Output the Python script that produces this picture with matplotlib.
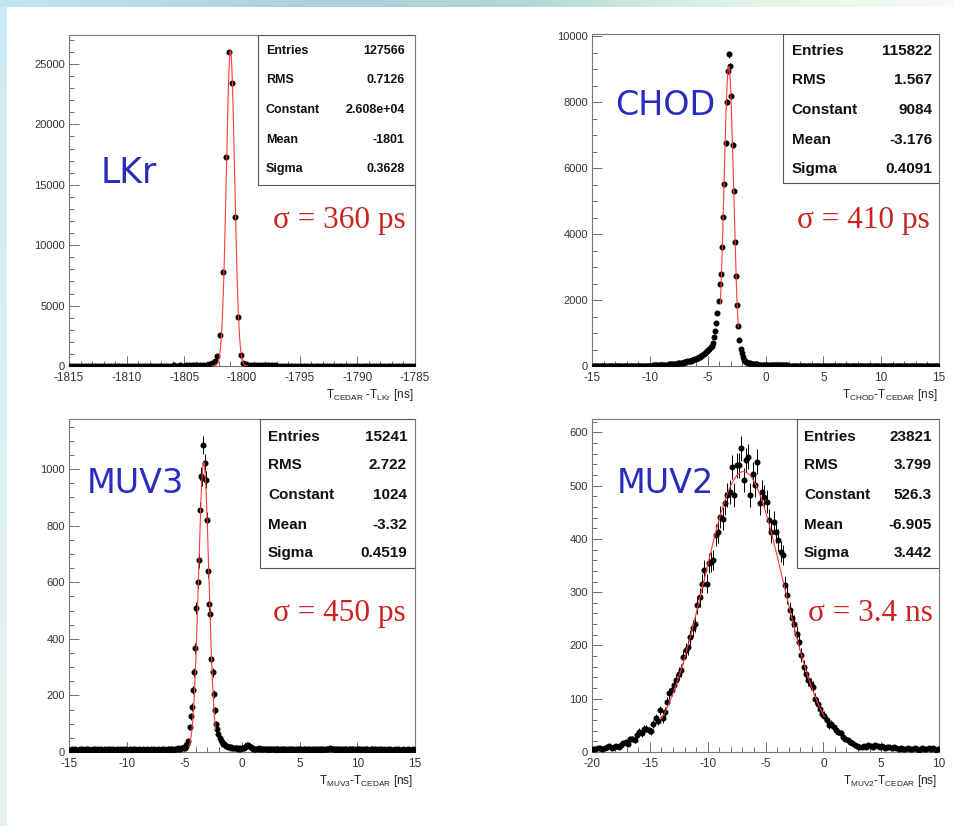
import numpy as np
import matplotlib.pyplot as plt
from matplotlib.patches import Rectangle
from matplotlib.ticker import MultipleLocator, FuncFormatter

plt.rcParams["font.family"] = ["Liberation Sans", "DejaVu Sans"]
plt.rcParams["axes.unicode_minus"] = False
plt.rcParams["mathtext.fontset"] = "custom"
plt.rcParams["mathtext.rm"] = "Liberation Sans"
plt.rcParams["mathtext.default"] = "regular"

# ---------------- LKr: T_CEDAR - T_LKr, 120 bins ----------------
lkr_range = (-1815, -1785)
lkr_counts = [
    22, 25, 19, 24, 28, 21, 26, 23, 27, 30,
    24, 29, 26, 31, 27, 25, 30, 28, 33, 29,
    31, 27, 34, 30, 32, 36, 29, 33, 35, 31,
    37, 34, 38, 33, 40, 36, 42, 39, 44, 41,
    46, 49, 52, 58, 64, 75, 90, 115,
    160, 250, 400, 830, 2540, 7800, 17280, 26000, 23450, 12360, 4060, 885, 260, 130, 90,
    72, 64, 58, 55, 52, 49, 47, 45, 43, 41,
    40, 38, 37, 36, 35, 33, 34, 32, 31, 30,
    31, 29, 28, 30, 27, 28, 26, 27, 25, 26,
    24, 25, 23, 26, 22, 24, 23, 21, 22, 20,
    23, 21, 19, 22, 20, 18, 21, 19, 20, 17,
    19, 18, 20, 16, 18, 17, 19,
]
lkr_stats = [("Entries", "127566"), ("RMS", "0.7126"), ("Constant", "2.608e+04"),
             ("Mean", "-1801"), ("Sigma", "0.3628")]
lkr_fit = (2.608e4, -1801.0, 0.3628)
lkr_fit_range = (-1802.6, -1799.5)

# ---------------- CHOD: T_CHOD - T_CEDAR, 300 bins ----------------
chod_range = (-15, 15)
chod_counts = [
    3, 3, 3, 4, 3, 4, 3, 4, 4, 4,
    4, 4, 4, 4, 5, 4, 5, 5, 5, 5,
    5, 5, 5, 5, 6, 5, 6, 6, 6, 6,
    6, 6, 6, 7, 7, 7, 7, 8, 8, 8,
    8, 8, 9, 9, 10, 10, 11, 11, 12, 13,
    14, 15, 16, 17, 19, 20, 22, 24, 26, 28,
    31, 33, 35, 37, 40, 43, 46, 50, 54, 58,
    62, 65, 69, 73, 77, 82, 88, 95, 104, 114,
    125, 132, 140, 148, 157, 166, 176, 186, 200, 217,
    235, 250, 268, 285, 305, 330, 355, 385, 415, 450,
    490, 530, 580, 620, 700, 890, 1050, 1300, 1600, 1980,
    2490, 2800, 3620, 4520, 5520, 6750, 8000, 8950, 9450, 9100,
    8200, 6700, 5320, 3750, 2740, 1840, 1220, 800, 520, 380,
    260, 190, 150, 125, 105, 90, 80, 72, 65, 60,
    55, 51, 48, 45, 42, 40, 38, 36, 34, 32,
    30, 29, 28, 27, 26, 25, 24, 23, 22, 21,
    20, 20, 19, 18, 18, 17, 17, 16, 16, 15,
    15, 14, 14, 13, 13, 13, 12, 12, 12, 11,
    11, 11, 10, 10, 10, 10, 9, 9, 9, 9,
    9, 8, 8, 8, 8, 8, 7, 7, 7, 7,
    7, 7, 7, 6, 6, 6, 6, 6, 6, 6,
    6, 5, 6, 5, 5, 5, 6, 5, 5, 5,
    5, 5, 5, 4, 5, 5, 4, 5, 4, 4,
    5, 4, 4, 4, 4, 5, 4, 4, 4, 4,
    4, 4, 4, 3, 4, 4, 4, 3, 4, 4,
    3, 4, 3, 4, 3, 3, 4, 3, 3, 4,
    3, 3, 3, 4, 3, 3, 3, 3, 4, 3,
    3, 3, 3, 3, 3, 4, 3, 3, 3, 3,
    3, 3, 2, 3, 3, 3, 3, 3, 2, 3,
    3, 3, 3, 2, 3, 3, 3, 3, 3, 2,
]
chod_stats = [("Entries", "115822"), ("RMS", "1.567"), ("Constant", "9084"),
              ("Mean", "-3.176"), ("Sigma", "0.4091")]
chod_fit = (9084, -3.176, 0.4091)
chod_fit_range = (-3.9, -2.35)

# ---------------- MUV3: T_MUV3 - T_CEDAR, 300 bins ----------------
muv3_range = (-15, 15)
muv3_counts = [
    8, 5, 9, 6, 7, 10, 6, 8, 5, 9,
    7, 11, 6, 8, 9, 5, 10, 7, 8, 6,
    9, 7, 12, 8, 6, 9, 7, 10, 8, 5,
    8, 10, 6, 9, 7, 11, 8, 6, 9, 7,
    6, 9, 8, 5, 10, 7, 9, 6, 8, 10,
    7, 5, 9, 8, 6, 10, 7, 9, 5, 8,
    9, 6, 8, 7, 10, 6, 8, 9, 7, 5,
    8, 10, 6, 9, 7, 8, 6, 10, 8, 7,
    9, 7, 11, 8, 6, 9, 10, 7, 12, 9,
    8, 11, 10, 9, 13, 11, 12, 14, 13, 16,
    15, 20, 28, 38, 88, 126, 159, 220, 281, 366,
    509, 600, 678, 855, 975, 970, 1085, 1022, 963, 820,
    640, 522, 487, 328, 281, 204, 147, 100, 83, 62,
    48, 41, 35, 30, 27, 24, 21, 19, 18, 17,
    16, 15, 14, 15, 13, 14, 12, 13, 12, 14,
    13, 15, 18, 22, 25, 24, 20, 16, 13, 12,
    11, 12, 10, 11, 13, 10, 9, 11, 10, 12,
    10, 9, 11, 8, 10, 12, 9, 10, 8, 11,
    9, 10, 8, 11, 9, 7, 10, 9, 8, 10,
    8, 9, 11, 8, 10, 7, 9, 8, 10, 9,
    7, 10, 8, 9, 11, 8, 7, 9, 10, 8,
    9, 8, 10, 7, 9, 11, 8, 10, 9, 7,
    10, 8, 9, 12, 10, 11, 13, 10, 9, 11,
    8, 10, 9, 7, 11, 9, 8, 10, 7, 9,
    10, 8, 9, 11, 7, 9, 10, 8, 9, 7,
    9, 11, 8, 10, 7, 9, 8, 10, 11, 8,
    7, 9, 10, 8, 9, 6, 10, 8, 9, 7,
    9, 8, 6, 10, 8, 7, 9, 8, 10, 6,
    8, 7, 9, 6, 8, 10, 7, 8, 6, 9,
    7, 8, 6, 9, 7, 8, 6, 7, 9, 8,
]
muv3_stats = [("Entries", "15241"), ("RMS", "2.722"), ("Constant", "1024"),
              ("Mean", "-3.32"), ("Sigma", "0.4519")]
muv3_fit = (1024, -3.32, 0.4519)
muv3_fit_range = (-4.6, -2.3)

# ---------------- MUV2: T_MUV2 - T_CEDAR, 150 bins ----------------
muv2_range = (-20, 10)
muv2_counts = [
    6, 5, 7, 8, 5, 7, 9, 11, 8, 10,
    12, 10, 14, 16, 18, 15, 25, 25, 22, 31,
    38, 35, 44, 44, 41, 39, 52, 63, 58, 78,
    63, 75, 94, 110, 116, 125, 135, 147, 153, 178,
    191, 197, 215, 232, 241, 276, 290, 316, 341, 316,
    354, 357, 360, 407, 413, 441, 438, 467, 482, 488,
    535, 482, 538, 538, 570, 510, 548, 554, 482, 522,
    501, 545, 467, 488, 479, 470, 435, 413, 432, 413,
    398, 376, 370, 313, 294, 266, 251, 241, 222, 207,
    182, 160, 147, 135, 128, 122, 100, 91, 80, 72,
    68, 60, 50, 53, 46, 41, 38, 35, 28, 25,
    22, 19, 16, 13, 11, 10, 9, 11, 9, 13,
    12, 10, 14, 11, 9, 11, 8, 10, 9, 7,
    9, 8, 6, 7, 6, 5, 8, 6, 5, 7,
    6, 4, 8, 5, 6, 7, 5, 8, 4, 6,
]
muv2_stats = [("Entries", "23821"), ("RMS", "3.799"), ("Constant", "526.3"),
              ("Mean", "-6.905"), ("Sigma", "3.442")]
muv2_fit = (526.3, -6.905, 3.442)
muv2_fit_range = (-14.0, 0.1)

W, H = 955, 826
BLUE = "#2b2bbd"
RED = "#cc2222"


def gaus(x, const, mean, sigma):
    """Gaussian fit function with the parameters shown in the stats box."""
    return const * np.exp(-0.5 * ((x - mean) / sigma) ** 2)


def px_rect(left, top, right, bottom):
    """Pixel box on the slide -> figure fraction rect."""
    return [left / W, 1 - bottom / H, (right - left) / W, (bottom - top) / H]


def draw_background(fig):
    """Light slide gradient at the top and left edge."""
    xs = np.linspace(0, 1, 500)
    pos = [0.0, 0.35, 0.55, 0.72, 0.88, 1.0]
    cols = np.array([[0.76, 0.90, 0.95], [0.66, 0.82, 0.86], [0.70, 0.85, 0.84],
                     [0.84, 0.94, 0.88], [0.93, 0.98, 0.92], [0.96, 0.99, 0.96]])
    grad = np.stack([np.interp(xs, pos, cols[:, i]) for i in range(3)], axis=-1)[None]
    band = fig.add_axes(px_rect(0, 0, W, 7))
    band.imshow(grad, aspect="auto")
    band.axis("off")

    ys = np.linspace(0, 1, 300)
    vcols = np.array([[0.80, 0.92, 0.96], [0.86, 0.94, 0.95], [0.90, 0.95, 0.93]])
    vgrad = np.stack([np.interp(ys, [0, 0.5, 1], vcols[:, i]) for i in range(3)], axis=-1)[:, None]
    strip = fig.add_axes(px_rect(0, 7, 6, H))
    strip.imshow(vgrad, aspect="auto")
    strip.axis("off")


def draw_panel(fig, p):
    """One ROOT-like histogram with Gaussian fit and stats box."""
    ax = fig.add_axes(px_rect(*p["box"]))
    counts = np.asarray(p["counts"], dtype=float)
    edges = np.linspace(p["range"][0], p["range"][1], len(counts) + 1)
    centers = 0.5 * (edges[1:] + edges[:-1])

    ax.errorbar(centers, counts, yerr=np.sqrt(counts), fmt="o", ms=3.3,
                mfc="black", mec="black", ecolor="black", elinewidth=0.7,
                capsize=0, zorder=3)
    xf = np.linspace(p["fit_range"][0], p["fit_range"][1], 400)
    ax.plot(xf, gaus(xf, *p["fit"]), color="#ff3a3a", lw=0.8, zorder=4)

    ax.set_xlim(*p["range"])
    ax.set_ylim(0, p["ymax"])
    ax.xaxis.set_major_locator(MultipleLocator(5))
    ax.xaxis.set_minor_locator(MultipleLocator(1))
    ax.yaxis.set_major_locator(MultipleLocator(p["ymajor"]))
    ax.yaxis.set_minor_locator(MultipleLocator(p["yminor"]))
    fmt = FuncFormatter(lambda v, _: "%g" % v)
    ax.xaxis.set_major_formatter(fmt)
    ax.yaxis.set_major_formatter(fmt)
    ax.tick_params(which="both", direction="in", top=False, right=False,
                   color="#555555", width=0.6, labelcolor="#333333")
    ax.tick_params(axis="x", labelsize=8.5)
    ax.tick_params(axis="y", labelsize=8)
    ax.tick_params(which="major", length=7)
    ax.tick_params(axis="x", which="major", pad=4.5)
    ax.tick_params(axis="y", which="major", pad=3)
    ax.tick_params(which="minor", length=3.5)
    for s in ax.spines.values():
        s.set_color("#777777")
        s.set_linewidth(0.8)

    # stats box
    bx, by = p["stats_box"]
    ax.add_patch(Rectangle((bx, by), 1 - bx, 1 - by, transform=ax.transAxes,
                           fc="white", ec="#555555", lw=0.8, zorder=5))
    lx, rx = p["stats_x"]
    for (name, val), yy in zip(p["stats"], p["stats_y"]):
        ax.text(lx, yy, name, transform=ax.transAxes, ha="left", va="center",
                fontsize=p["stats_fs"], fontweight="bold", color="#111111", zorder=6)
        ax.text(rx, yy, val, transform=ax.transAxes, ha="right", va="center",
                fontsize=p["stats_fs"], fontweight="bold", color="#111111", zorder=6)

    ax.text(p["name_xy"][0], p["name_xy"][1], p["name"], transform=ax.transAxes,
            ha="left", va="baseline", fontsize=p["name_fs"], color=BLUE,
            family=["DejaVu Sans"], zorder=6)
    ax.text(p["sigma_xy"][0], p["sigma_xy"][1], p["sigma"], transform=ax.transAxes,
            ha="left", va="baseline", fontsize=22.5, color=RED,
            family=["Liberation Serif", "DejaVu Serif"], zorder=6)
    ax.text(0.995, p["xlabel_y"], p["xlabel"], transform=ax.transAxes,
            ha="right", va="center", fontsize=8.5, color="#222222")
    return ax


def main():
    fig = plt.figure(figsize=(W / 100, H / 100), dpi=100)
    fig.patch.set_facecolor("white")
    draw_background(fig)

    panels = [
        dict(box=(69, 35, 415, 366), counts=lkr_counts, range=lkr_range, ymax=27400,
             ymajor=5000, yminor=1000, fit=lkr_fit, fit_range=lkr_fit_range,
             stats=lkr_stats, stats_box=(0.546, 0.547), stats_x=(0.569, 0.971),
             stats_y=(0.952, 0.864, 0.773, 0.683, 0.595), stats_fs=9,
             name="LKr", name_xy=(0.090, 0.552), name_fs=25,
             sigma="σ = 360 ps", sigma_xy=(0.589, 0.417),
             xlabel=r"T$_{CEDAR}$ -T$_{LKr}$ [ns]", xlabel_y=-0.088),
        dict(box=(592, 34, 939, 366), counts=chod_counts, range=chod_range, ymax=10070,
             ymajor=2000, yminor=500, fit=chod_fit, fit_range=chod_fit_range,
             stats=chod_stats, stats_box=(0.550, 0.551), stats_x=(0.576, 0.980),
             stats_y=(0.949, 0.861, 0.771, 0.681, 0.593), stats_fs=11,
             name="CHOD", name_xy=(0.066, 0.756), name_fs=24,
             sigma="σ = 410 ps", sigma_xy=(0.590, 0.416),
             xlabel=r"T$_{CHOD}$-T$_{CEDAR}$ [ns]", xlabel_y=-0.088),
        dict(box=(69, 419, 415, 752), counts=muv3_counts, range=muv3_range, ymax=1177,
             ymajor=200, yminor=50, fit=muv3_fit, fit_range=muv3_fit_range,
             stats=muv3_stats, stats_box=(0.552, 0.553), stats_x=(0.575, 0.977),
             stats_y=(0.946, 0.862, 0.772, 0.682, 0.598), stats_fs=11,
             name="MUV3", name_xy=(0.052, 0.777), name_fs=24,
             sigma="σ = 450 ps", sigma_xy=(0.589, 0.394),
             xlabel=r"T$_{MUV3}$-T$_{CEDAR}$ [ns]", xlabel_y=-0.088),
        dict(box=(592, 419, 939, 752), counts=muv2_counts, range=muv2_range, ymax=625,
             ymajor=100, yminor=20, fit=muv2_fit, fit_range=muv2_fit_range,
             stats=muv2_stats, stats_box=(0.591, 0.553), stats_x=(0.611, 0.980),
             stats_y=(0.946, 0.862, 0.772, 0.682, 0.598), stats_fs=11,
             name="MUV2", name_xy=(0.072, 0.777), name_fs=24,
             sigma="σ = 3.4 ns", sigma_xy=(0.622, 0.394),
             xlabel=r"T$_{MUV2}$-T$_{CEDAR}$ [ns]", xlabel_y=-0.088),
    ]
    for p in panels:
        draw_panel(fig, p)

    fig.savefig("out.png", dpi=100, facecolor="white")


if __name__ == "__main__":
    main()
